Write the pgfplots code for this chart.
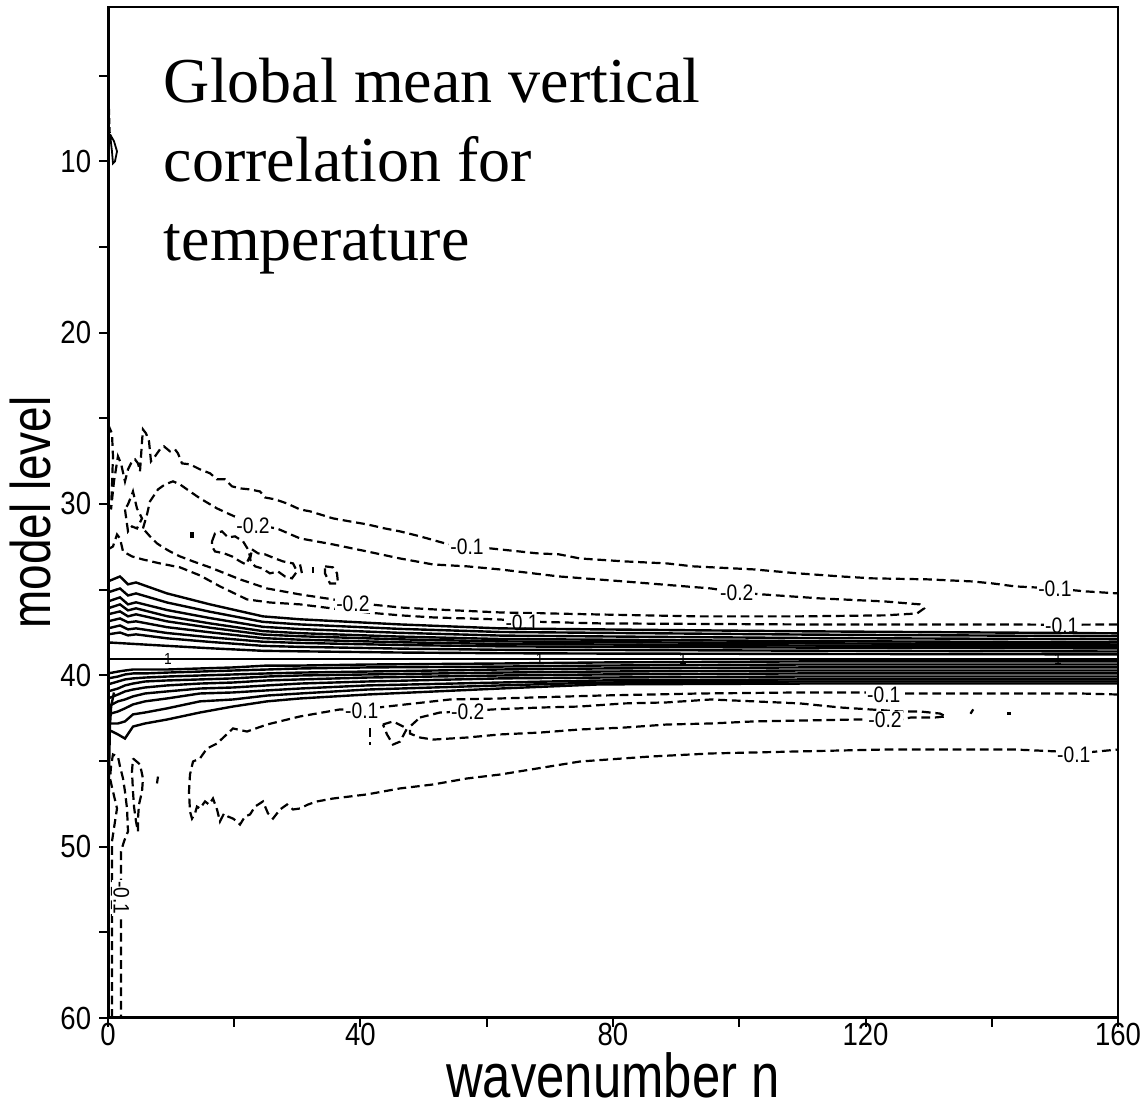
\documentclass[border=0pt]{standalone}
\usepackage{pgfplots}
\pgfplotsset{compat=1.18}
\usepackage{fontspec}
\setmainfont{Liberation Serif}
\newfontfamily\condsans{Liberation Sans}[FakeStretch=0.86]
\newfontfamily\labsans{Liberation Sans}[FakeStretch=0.82]
\pgfplotsset{
  cpos/.style={black, line width=0.6pt, mark=none},
  cneg/.style={black, line width=0.55pt, dash pattern=on 2.2pt off 1.2pt, mark=none},
}
\tikzset{
  clab/.style={font=\condsans\fontsize{5.6}{6}\selectfont, fill=white, inner sep=0.4pt},
  clabone/.style={font=\condsans\fontsize{4}{4}\selectfont, inner sep=0pt},
}
\begin{document}
\begin{tikzpicture}
\useasboundingbox (-27pt,-22pt) rectangle (259.5pt,254.5pt);
\begin{axis}[
  at={(0pt,0pt)}, anchor=south west,
  scale only axis, width=252.5pt, height=252.75pt,
  xmin=0, xmax=160, ymin=1, ymax=60, y dir=reverse,
  xtick={0,40,80,120,160}, minor xtick={20,60,100,140},
  ytick={10,20,30,40,50,60}, minor ytick={5,15,25,35,45,55},
  xtick pos=left, ytick pos=left, tick align=outside,
  major tick length=2.2pt, minor tick length=2.2pt,
  major tick style={black, line width=0.5pt},
  minor tick style={black, line width=0.5pt},
  axis line style={line width=0.6pt},
  /pgf/number format/assume math mode=true,
  ticklabel style={font=\condsans\fontsize{8}{9}\selectfont},
  yticklabel style={xshift=1.5pt},
  xticklabel style={yshift=1.5pt, inner sep=0.5pt},
  every axis y label/.style={at={(axis description cs:-0.077,0.5)}, anchor=center, rotate=90, inner sep=0pt, font=\labsans\fontsize{14}{16}\selectfont},
  every axis x label/.style={at={(axis description cs:0.5,-0.057)}, anchor=center, inner sep=0pt, font=\labsans\fontsize{15.5}{17}\selectfont},
  xlabel={wavenumber n}, ylabel={model level},
]
% ---------- negative (dashed) contours ----------
% -0.1 upper outer
\addplot[cneg] coordinates {(0,25.35)(0.63,25.88)(0.79,27.22)(0.63,28.97)(0.48,30.32)(0.95,28.68)(1.58,27.22)(2.06,27.63)(2.69,28.68)(3.17,27.98)(3.80,27.51)(4.28,27.40)(4.75,27.63)(5.07,28.10)(5.39,26.35)(5.54,25.65)(6.02,25.88)(6.50,26.35)(6.81,27.51)(7.45,27.22)(8.24,26.81)(8.87,26.64)(9.82,26.93)(10.61,26.81)(11.09,27.05)(11.72,27.63)(12.99,27.69)(14.57,27.98)(16.16,28.21)(17.27,28.56)(18.53,28.56)(19.64,28.97)(20.91,29.09)(22.50,29.15)(24.08,29.27)(24.87,29.62)(26.46,29.73)(28.36,29.97)(30.42,30.32)(32.00,30.43)(35.64,30.84)(38.34,31.02)(41.03,31.19)(43.88,31.43)(46.26,31.60)(49.43,31.89)(53.39,32.30)(56.87,32.48)(60.51,32.59)(67.96,32.88)(71.45,32.94)(74.77,33.18)(81.74,33.35)(88.55,33.47)(92.67,33.64)(102.34,33.82)(109.31,34.05)(116.12,34.23)(121.03,34.34)(129.90,34.40)(136.87,34.52)(140.20,34.64)(143.68,34.81)(150.0,34.93)(154.8,35.10)(160,35.22)};
% -0.2 upper loop
\addplot[cneg] coordinates {(5.54,31.43)(6.18,30.61)(6.65,29.85)(7.92,29.15)(9.03,28.86)(10.30,28.68)(11.41,28.86)(12.99,29.27)(14.57,29.67)(17.27,30.26)(19.33,30.61)(22.97,31.20)(26.77,31.43)(30.42,32.01)(35.64,32.36)(41.03,32.77)(46.26,33.18)(51.49,33.53)(56.87,33.64)(62.10,33.82)(71.45,34.23)(81.74,34.52)(95.52,34.93)(99.6,35.16)(103.76,35.28)(112.79,35.51)(123.09,35.69)(128.63,35.86)(129.27,36.10)(128.16,36.39)(123.09,36.50)(109.62,36.56)(93.78,36.56)(77.94,36.45)(62.10,36.33)(51.49,36.15)(46.26,36.04)(41.50,35.86)(38.8,35.75)(36.75,35.63)(30.42,35.28)(25.19,34.93)(20.91,34.40)(16.16,33.70)(13.47,33.35)(11.41,33.06)(9.82,32.77)(8.71,32.53)(7.76,32.30)(6.65,31.89)(5.54,31.43)};
% small -0.2 loop at left
\addplot[cneg] coordinates {(2.69,30.32)(3.17,31.60)(3.80,31.31)(4.59,31.43)(5.39,30.84)(4.59,30.26)(3.96,29.27)(3.80,29.44)(3.17,30.02)(2.69,30.32)};
% -0.3 islands
\addplot[cneg] coordinates {(16.48,32.18)(16.95,31.72)(18.06,31.60)(19.01,31.95)(20.12,31.89)(21.39,32.18)(22.18,32.65)(22.50,33.06)(21.86,33.53)(20.91,33.35)(19.64,33.06)(18.38,32.88)(16.95,32.77)(16.48,32.48)(16.48,32.18)};
\addplot[cneg] coordinates {(22.81,32.65)(23.76,32.88)(24.87,32.94)(26.46,33.18)(27.72,33.35)(29.31,33.47)(29.94,33.94)(29.15,34.34)(28.04,34.23)(26.93,33.94)(25.66,34.05)(24.40,33.76)(23.29,33.64)(22.50,33.24)(22.81,32.65)};
\addplot[cneg] coordinates {(30.42,33.53)(30.73,34.05)};
\addplot[cneg] coordinates {(32.48,33.70)(32.48,34.05)};
\addplot[cneg] coordinates {(34.38,33.64)(35.64,33.70)(36.28,34.05)(36.44,34.64)(35.17,34.64)(34.38,34.05)(34.38,33.64)};
\addplot[black, line width=1.2pt] coordinates {(13.31,31.66)(13.31,32.01)};
% -0.1 lower (above band)
\addplot[cneg] coordinates {(0,32.65)(0.79,32.48)(1.43,31.78)(1.90,32.01)(2.38,32.77)(3.80,33.06)(5.54,33.24)(8.24,33.47)(11.41,33.70)(14.57,34.17)(17.74,34.81)(22.02,35.57)(25.66,35.75)(30.42,35.86)(35.64,36.10)(41.03,36.33)(46.26,36.50)(51.49,36.62)(62.10,36.74)(65.6,36.85)(71.60,36.91)(77.94,36.97)(109.62,37.03)(141.31,37.03)(151.1,37.05)(160,37.03)};
% -0.1 lower C contour
\addplot[cneg] coordinates {(160,41.12)(153.98,41.06)(127.21,41.06)(122.9,41.06)(119.60,41.00)(109.62,41.00)(93.78,41.06)(77.94,41.18)(62.10,41.35)(54.18,41.41)(44.20,41.82)(40.2,41.99)(36.75,41.99)(30.42,42.40)(25.19,42.87)(22.02,43.28)(19.80,43.10)(17.27,43.98)(15.68,44.27)(14.57,44.85)(13.47,45.03)(12.99,45.79)(12.83,46.78)(12.99,47.95)(13.31,48.36)(13.78,48.06)(14.10,47.66)(14.57,47.77)(15.37,47.36)(16.00,47.54)(16.63,47.19)(17.27,47.83)(17.74,48.53)(18.38,48.06)(19.01,48.24)(19.80,48.36)(20.44,48.53)(20.91,48.71)(21.70,48.24)(22.50,48.12)(23.29,47.66)(24.55,47.36)(25.35,48.06)(26.14,48.36)(27.25,47.83)(28.36,47.54)(29.31,47.83)(30.42,47.77)(31.68,47.54)(33.11,47.36)(35.64,47.19)(38.34,47.07)(41.03,46.95)(46.26,46.60)(51.49,46.37)(56.87,46.02)(62.10,45.79)(74.77,45.03)(85.86,44.74)(95.52,44.56)(109.62,44.44)(123.09,44.33)(143.68,44.33)(150.8,44.45)(153.35,44.56)(160,44.33)};
% -0.2 lower loop
\addplot[cneg] coordinates {(49.43,42.46)(52.59,42.17)(57.0,42.10)(60.99,41.99)(68.44,41.88)(74.77,41.82)(81.74,41.64)(88.55,41.58)(95.52,41.41)(102.34,41.52)(109.62,41.64)(116.12,41.88)(120.71,41.99)(125.47,42.11)(128.63,42.11)(131.80,42.23)(132.75,42.40)(131.01,42.46)(127.21,42.46)(125.47,42.58)(123.1,42.58)(118.18,42.58)(109.62,42.64)(102.34,42.69)(95.52,42.81)(88.55,42.87)(81.74,43.05)(74.77,43.16)(68.44,43.34)(62.10,43.45)(56.87,43.63)(54.18,43.69)(51.49,43.75)(49.43,43.63)(47.84,43.40)(47.84,42.99)(49.43,42.46)};
\addplot[cneg] coordinates {(43.56,42.87)(45.15,42.69)(47.37,43.10)(46.26,43.87)(45.15,44.04)(44.20,43.45)(43.56,42.87)};
\addplot[cneg] coordinates {(41.50,43.10)(41.50,44.04)};
\addplot[black, line width=1.3pt] coordinates {(136.7,42.08)(137.0,42.15)};
\addplot[black, line width=1.1pt] coordinates {(142.73,42.15)(142.73,42.30)};
% lower-left near-axis contours
\addplot[cneg] coordinates {(0.63,60)(0.63,49.70)(1.11,48.53)(1.43,47.77)(0.79,46.78)(0.32,46.02)(0.48,45.32)(0.79,44.62)(1.58,44.74)(1.90,45.32)(2.38,46.02)(2.69,46.78)(3.01,47.77)(3.17,49.11)(2.53,49.70)(2.06,50.28)(2.06,53.20)(2.06,60)};
\addplot[cneg] coordinates {(3.96,44.85)(5.07,45.20)(5.54,46.02)(5.39,46.78)(4.91,47.54)(4.75,48.36)(4.75,49.11)(4.44,48.53)(4.12,47.66)(3.96,46.78)(3.80,45.61)(3.96,44.85)};
\addplot[cneg] coordinates {(7.92,45.91)(7.76,46.31)};
% top-left small features
\addplot[black, line width=0.4pt, dash pattern=on 1.5pt off 0.8pt] coordinates {(0.05,5.33)(0.2,7.0)(0.32,8.42)};
\addplot[black, line width=0.45pt] coordinates {(0.32,8.42)(0.95,8.83)(1.43,9.42)(1.11,10.0)(0.79,10.12)(0.63,9.42)(0.32,8.42)};
% ---------- contour labels ----------
\node[clab] at (axis cs:56.87,32.48) {-0.1};
\node[clab] at (axis cs:22.97,31.25) {-0.2};
\node[clab] at (axis cs:150.0,34.93) {-0.1};
\node[clab] at (axis cs:99.6,35.16) {-0.2};
\node[clab] at (axis cs:38.8,35.80) {-0.2};
\node[clab] at (axis cs:65.6,36.95) {-0.1};
\node[clab] at (axis cs:151.1,37.10) {-0.1};
\node[clab] at (axis cs:122.9,41.15) {-0.1};
\node[clab] at (axis cs:40.2,42.05) {-0.1};
\node[clab] at (axis cs:57.0,42.15) {-0.2};
\node[clab] at (axis cs:123.1,42.62) {-0.2};
\node[clab] at (axis cs:153.0,44.62) {-0.1};
\node[clab, rotate=-90] at (axis cs:2.1,53.0) {-0.1};
% ---------- positive (solid) contours ----------
\addplot[cpos] coordinates {(0,34.52)(1.90,34.23)(3.17,34.69)(4.44,34.58)(9.35,35.22)(16.16,35.86)(24.55,36.56)(30.42,36.73)(46.26,37.03)(62.10,37.26)(77.94,37.32)(109.62,37.43)(160,37.55)};
\addplot[cpos] coordinates {(0,35.16)(1.90,34.93)(3.17,35.34)(4.44,35.22)(9.35,35.75)(16.16,36.29)(24.55,36.88)(30.42,37.03)(46.26,37.29)(62.10,37.47)(77.94,37.52)(109.62,37.62)(160,37.72)};
\addplot[cpos] coordinates {(0,35.69)(1.90,35.45)(3.17,35.86)(4.44,35.74)(9.35,36.19)(16.16,36.66)(24.55,37.17)(30.42,37.30)(46.26,37.52)(62.10,37.68)(77.94,37.73)(109.62,37.82)(160,37.90)};
\addplot[cpos] coordinates {(0,36.09)(1.90,35.86)(3.17,36.21)(4.44,36.09)(9.35,36.55)(16.16,36.97)(24.55,37.42)(30.42,37.54)(46.26,37.74)(62.10,37.88)(77.94,37.92)(109.62,38.00)(160,38.08)};
\addplot[cpos] coordinates {(0,36.44)(1.90,36.27)(3.17,36.56)(4.44,36.44)(9.35,36.85)(16.16,37.22)(24.55,37.62)(30.42,37.72)(46.26,37.90)(62.10,38.02)(77.94,38.06)(109.62,38.13)(160,38.20)};
\addplot[cpos] coordinates {(0,36.85)(1.90,36.68)(3.17,36.91)(4.44,36.85)(9.35,37.19)(16.16,37.49)(24.55,37.83)(30.42,37.92)(46.26,38.07)(62.10,38.17)(77.94,38.20)(109.62,38.26)(160,38.31)};
\addplot[cpos] coordinates {(0,37.26)(1.90,37.09)(3.17,37.32)(4.44,37.26)(9.35,37.53)(16.16,37.78)(24.55,38.04)(30.42,38.11)(46.26,38.23)(62.10,38.31)(77.94,38.34)(109.62,38.38)(160,38.43)};
\addplot[cpos] coordinates {(0,37.61)(1.90,37.50)(3.17,37.67)(4.44,37.61)(9.35,37.84)(16.16,38.05)(24.55,38.28)(30.42,38.34)(46.26,38.44)(62.10,38.51)(77.94,38.52)(109.62,38.56)(160,38.61)};
\addplot[cpos] coordinates {(0,38.08)(9.35,38.28)(16.16,38.42)(24.55,38.57)(30.42,38.60)(46.26,38.67)(62.10,38.71)(77.94,38.73)(109.62,38.75)(160,38.78)};
% correlation 1
\addplot[cpos] coordinates {(0,39.03)(160,39.03)};
\addplot[cpos] coordinates {(0,39.89)(1.58,39.78)(2.69,39.72)(3.96,39.66)(5.86,39.66)(9.35,39.66)(14.57,39.60)(19.80,39.54)(25.19,39.43)(30.42,39.43)(41.03,39.37)(62.10,39.31)(77.94,39.25)(109.62,39.19)(160,39.19)};
\addplot[cpos] coordinates {(0,40.18)(1.58,40.07)(2.69,39.95)(3.96,39.89)(5.86,39.89)(9.35,39.84)(14.57,39.78)(19.80,39.72)(25.19,39.66)(30.42,39.60)(41.03,39.54)(62.10,39.49)(77.94,39.43)(109.62,39.37)(160,39.37)};
\addplot[cpos] coordinates {(0,40.53)(1.58,40.36)(2.69,40.24)(3.96,40.18)(5.86,40.13)(9.35,40.07)(14.57,40.01)(19.80,39.95)(25.19,39.89)(30.42,39.84)(41.03,39.78)(62.10,39.66)(77.94,39.60)(109.62,39.54)(160,39.54)};
\addplot[cpos] coordinates {(0,40.94)(1.58,40.77)(2.69,40.59)(3.96,40.48)(5.86,40.36)(9.35,40.30)(14.57,40.24)(19.80,40.18)(25.19,40.07)(30.42,40.01)(41.03,39.95)(62.10,39.84)(77.94,39.78)(109.62,39.72)(160,39.72)};
\addplot[cpos] coordinates {(0,41.35)(1.58,41.12)(2.69,40.94)(3.96,40.83)(5.86,40.71)(9.35,40.59)(14.57,40.48)(19.80,40.42)(25.19,40.30)(30.42,40.24)(41.03,40.13)(62.10,40.01)(77.94,39.95)(109.62,39.89)(160,39.89)};
\addplot[cpos] coordinates {(0,41.82)(1.58,41.52)(2.69,41.41)(3.96,41.23)(5.86,41.06)(9.35,40.94)(14.57,40.77)(19.80,40.71)(25.19,40.59)(30.42,40.48)(41.03,40.36)(62.10,40.18)(77.94,40.13)(109.62,40.07)(160,40.07)};
\addplot[cpos] coordinates {(0,42.28)(1.58,42.11)(2.69,41.93)(3.96,41.70)(5.86,41.52)(9.35,41.35)(14.57,41.06)(19.80,41.00)(25.19,40.88)(30.42,40.77)(41.03,40.59)(62.10,40.42)(77.94,40.30)(109.62,40.24)(160,40.24)};
\addplot[cpos] coordinates {(0,42.81)(1.58,42.81)(2.69,42.69)(3.96,42.28)(5.86,42.17)(9.35,41.93)(14.57,41.52)(19.80,41.41)(25.19,41.18)(30.42,41.06)(41.03,40.83)(62.10,40.59)(77.94,40.42)(109.62,40.36)(160,40.36)};
\addplot[cpos] coordinates {(0,43.16)(1.58,43.45)(2.69,43.69)(3.96,42.99)(5.86,42.81)(9.35,42.58)(14.57,42.17)(19.80,41.82)(25.19,41.52)(30.42,41.35)(41.03,41.12)(62.10,40.77)(77.94,40.53)(109.62,40.48)(160,40.48)};
\addplot[cpos] coordinates {(0.95,41.0)(0.5,41.8)(0.3,43.0)(0.2,45.0)(0.12,47.0)};
% labels on the correlation-1 line
\node[clabone] at (axis cs:9.5,39.05) {1};
\node[clabone] at (axis cs:68.4,39.05) {1};
\node[clabone] at (axis cs:91.1,39.05) {1};
\node[clabone] at (axis cs:150.5,39.05) {1};
% title
\node[anchor=north west, align=left, inner sep=0pt, font=\fontsize{16}{19.8}\selectfont] at (axis description cs:0.0545,0.9505) {Global mean vertical\\correlation for\\temperature};
% left and bottom axis lines drawn heavier
\draw[line width=1pt] (axis description cs:0,1) -- (axis description cs:0,0) -- (axis description cs:1,0);
\end{axis}
\end{tikzpicture}
\end{document}
